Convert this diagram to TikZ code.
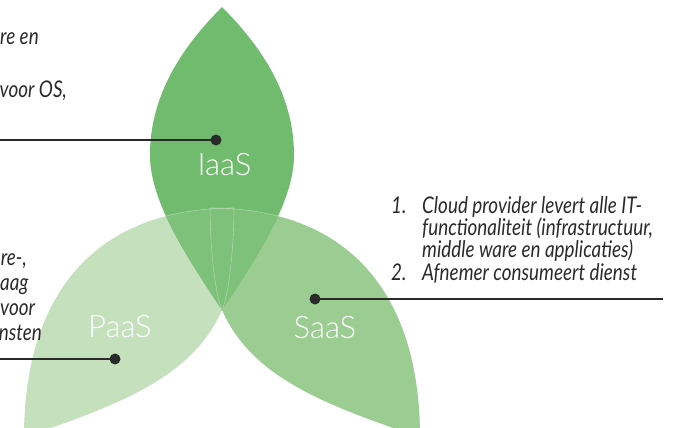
\documentclass[tikz,border=0pt]{standalone}
\usepackage{fontspec}
\newfontfamily\notefont{Lato}[FakeStretch=0.82]
\newfontfamily\leaffont{Lato Light}
\definecolor{iaasgreen}{HTML}{71BB6E}
\definecolor{paasgreen}{HTML}{C5E0BD}
\definecolor{saasgreen}{HTML}{9BCD92}
\definecolor{mixgreen}{HTML}{7EC17A}
\definecolor{inkgray}{HTML}{2A2A2A}
\tikzset{
  iaaspath/.style={insert path={
    (222,7) .. controls (177,52) and (150,100) .. (150,155)
            .. controls (150,200) and (183.6,252.4) .. (222,310)
            .. controls (260.4,252.4) and (294,200) .. (294,155)
            .. controls (294,100) and (267,52) .. (222,7) -- cycle}},
  paaspath/.style={insert path={
    (24,437) .. controls (24,300) and (90,208) .. (234,208)
             .. controls (234,240) and (230,292) .. (222,310)
             .. controls (194,373) and (130,402) .. (24,437) -- cycle}},
  saaspath/.style={insert path={
    (420,437) .. controls (420,300) and (354,208) .. (210,208)
              .. controls (210,240) and (214,292) .. (222,310)
              .. controls (250,373) and (314,402) .. (420,437) -- cycle}},
  seam/.style={draw=white, draw opacity=0.35, line width=0.6pt},
  note/.style={font=\notefont\itshape\fontsize{23}{22}\selectfont, text=inkgray, inner sep=0pt},
  leaflabel/.style={font=\leaffont\fontsize{31}{31}\selectfont, text=white, inner sep=0pt, anchor=base},
  pointer/.style={draw=inkgray, line width=2.4pt},
  pin/.style={circle, fill=inkgray, inner sep=0pt, minimum size=11pt}
}
\begin{document}
\begin{tikzpicture}[x=1pt, y=-1pt]
\useasboundingbox (0,0) rectangle (685,428);
\clip (0,0) rectangle (685,428);

% the three leaves
\fill[paasgreen, paaspath];
\fill[saasgreen, saaspath];
\fill[iaasgreen, iaaspath];

% where the lower leaves run under the top leaf
\begin{scope}
  \clip[iaaspath];
  \fill[mixgreen, paaspath];
  \fill[mixgreen, saaspath];
  \path[seam, paaspath];
  \path[seam, saaspath];
\end{scope}

% leaf labels
\node[leaflabel] (iaas) at (224.5,175) {IaaS};
\node[leaflabel] (paas) at (120,337) {PaaS};
\node[leaflabel] (saas) at (325,338) {SaaS};

% text next to IaaS
\node[note, anchor=base west] (i1) at (0,45) {re en};
\node[note, anchor=base east] (i2) at (67,97) {voor OS,};

% text next to PaaS
\node[note, anchor=base east] (p1) at (27,265) {re-,};
\node[note, anchor=base west] (p2) at (0,290) {aag};
\node[note, anchor=base west] (p3) at (0,315) {voor};
\node[note, anchor=base east] (p4) at (42,340) {nsten};

% list next to SaaS
\node[note, anchor=base west] (n1) at (391,213) {1.};
\node[note, anchor=base west] (s1) at (422,213) {Cloud provider levert alle IT-};
\node[note, anchor=base west] (s2) at (422,235) {functionaliteit (infrastructuur,};
\node[note, anchor=base west] (s3) at (422,257) {middle ware en applicaties)};
\node[note, anchor=base west] (n2) at (391,280) {2.};
\node[note, anchor=base west] (s4) at (422,280) {Afnemer consumeert dienst};

% pointers
\node[pin] (ipin) at (216,140) {};
\node[pin] (ppin) at (115,359) {};
\node[pin] (spin) at (315,299) {};
\coordinate (iend) at (0,140);
\coordinate (pend) at (0,359);
\coordinate (send) at (663,299);
\draw[pointer] (iend) -- (ipin.center);
\draw[pointer] (pend) -- (ppin.center);
\draw[pointer] (spin.center) -- (send);
\end{tikzpicture}
\end{document}
